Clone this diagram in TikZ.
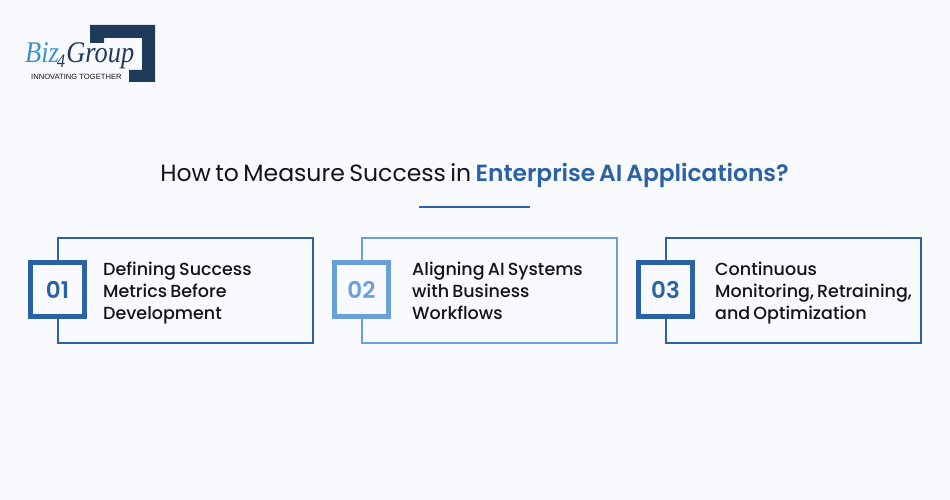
\documentclass[tikz,border=0pt]{standalone}
\usepackage{fontspec}
\setmainfont{Poppins}[WordSpace=0.7]
\newfontfamily\cardfont{Poppins Medium}[WordSpace=0.7]
\newfontfamily\strongfont{Poppins SemiBold}[WordSpace=0.7]
\newfontfamily\logofont{Liberation Serif}[FakeStretch=0.88]
\newfontfamily\taglinefont{Liberation Sans}
\usetikzlibrary{positioning}
\definecolor{pagebg}{HTML}{F8FAFD}
\definecolor{bizblue}{HTML}{2B62A6}
\definecolor{bizsky}{HTML}{69A0DC}
\definecolor{biznavy}{HTML}{1F3B5C}
\definecolor{bizcyan}{HTML}{3A93D0}
\definecolor{inktext}{HTML}{111418}

\begin{document}
\begin{tikzpicture}[
    x=1pt, y=-1pt,
    node distance=47pt,
    panel/.style={rectangle, draw=#1, line width=2pt, fill=pagebg, minimum width=255pt, minimum height=105pt, inner sep=0pt},
    badge/.style={rectangle, draw=#1, line width=5pt, fill=pagebg, text=#1, minimum width=54pt, minimum height=54pt, inner sep=0pt, font=\strongfont\fontsize{23}{23}\selectfont},
    cardtext/.style={align=left, anchor=west, text=inktext, inner sep=0pt, font=\cardfont\fontsize{17.5}{22}\selectfont},
    logotext/.style={inner sep=0pt, anchor=base west}
]
\useasboundingbox (0,0) rectangle (950,500);
\fill[pagebg] (0,0) rectangle (950,500);

% Logo
\fill[biznavy] (90,25) -- (155,25) -- (155,82) -- (129,82) -- (129,70) -- (142,70) -- (142,38) -- (104,38) -- (104,43) -- (90,43) -- cycle;
\node[logotext, text=biznavy] (logoname) at (25,63) {\logofont\itshape\fontsize{30}{30}\selectfont \textcolor{bizcyan}{Biz}\kern-2pt\raisebox{-5pt}{\fontsize{19}{19}\selectfont 4}\kern1pt Group};
\node[logotext, text=inktext] (tagline) at (31,80) {\taglinefont\fontsize{7.6}{8}\selectfont INNOVATING TOGETHER};

% Title
\node[inner sep=0pt, text=inktext] (title) at (474.5,175) {\fontsize{23.55}{28}\selectfont How to Measure Success in \textcolor{bizblue}{\strongfont\fontsize{23.35}{28}\selectfont Enterprise AI Applications?}};
\coordinate (ruleleft) at (419,207);
\coordinate (ruleright) at (530,207);
\draw[bizblue, line width=2pt] (ruleleft) -- (ruleright);

% Cards
\node[panel=bizblue] (cardone) at (185.3,290) {};
\node[panel=bizsky, right=of cardone] (cardtwo) {};
\node[panel=bizblue, right=of cardtwo] (cardthree) {};

\node[badge=bizblue] (badgeone) at (cardone.west) [shift={(0.7pt,0.5pt)}] {01};
\node[badge=bizsky] (badgetwo) at (cardtwo.west) [shift={(0.7pt,0.5pt)}] {02};
\node[badge=bizblue] (badgethree) at (cardthree.west) [shift={(0.7pt,0.5pt)}] {03};

\node[cardtext] (textone) at (103,293) {\strut Defining Success\\Metrics Before\\Development\strut};
\node[cardtext] (texttwo) at (412,293) {\strut Aligning AI Systems\\with Business\\Workflows\strut};
\node[cardtext] (textthree) at (715,293) {\strut Continuous\\Monitoring, Retraining,\\and Optimization\strut};

\end{tikzpicture}
\end{document}
